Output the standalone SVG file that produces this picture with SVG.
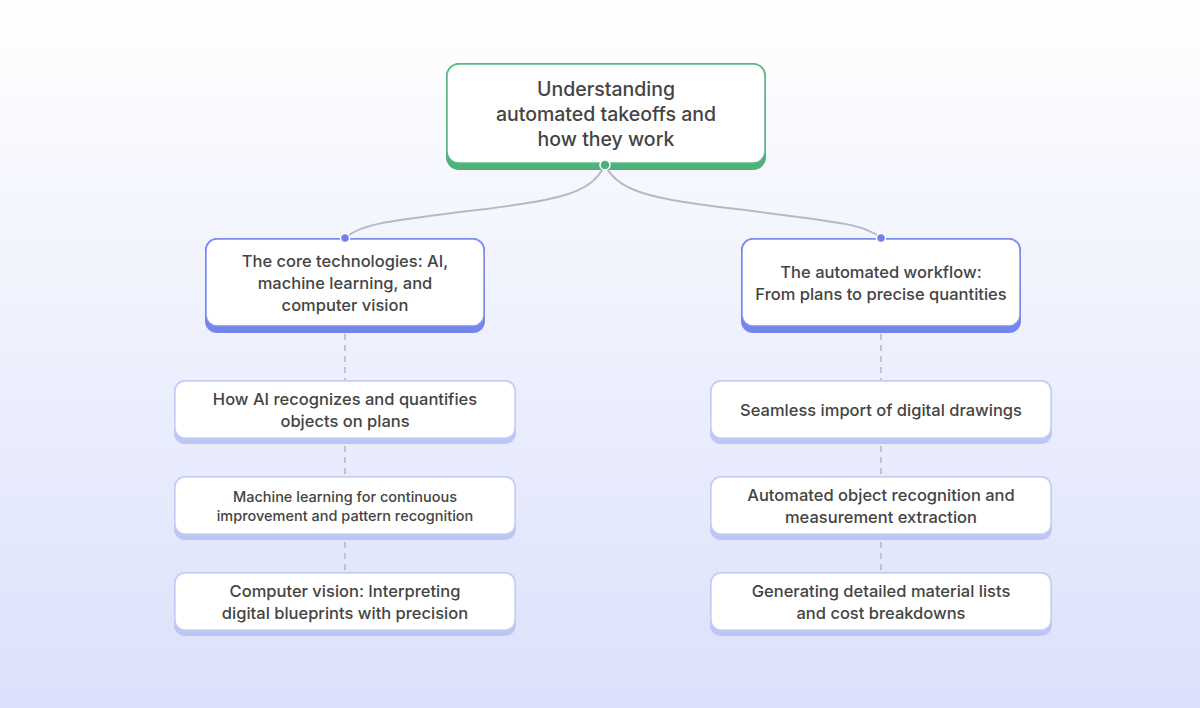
<svg xmlns="http://www.w3.org/2000/svg" width="1200" height="708" viewBox="0 0 1200 708">
<defs>
<linearGradient id="bg" x1="0" y1="0" x2="0" y2="1"><stop offset="0" stop-color="#ffffff"/><stop offset="1" stop-color="#dce1fb"/></linearGradient>
<style>
text{font-family:Inter,"Noto Sans",sans-serif;fill:#444;text-anchor:middle;font-weight:500}
.t1{font-size:19.5px}.t2{font-size:16.5px}.t3{font-size:16.5px}.t4{font-size:14.5px}
.card{fill:#fff}
.dash{stroke:#b5b7c4;stroke-width:1.5;stroke-dasharray:6 5;fill:none}
.curve{stroke:#b8b9c8;stroke-width:2;fill:none}
</style>
</defs>
<rect width="1200" height="708" fill="url(#bg)"/>
<g id="connectors">
<path class="curve" d="M605 165 C 590 195, 560 200, 460 212 C 380 222, 360 225, 345 238"/>
<path class="curve" d="M605 165 C 620 195, 660 200, 760 212 C 840 222, 866 225, 881 238"/>
<line class="dash" x1="345" y1="334" x2="345" y2="380"/>
<line class="dash" x1="345" y1="446" x2="345" y2="476"/>
<line class="dash" x1="345" y1="542" x2="345" y2="572"/>
<line class="dash" x1="881" y1="334" x2="881" y2="380"/>
<line class="dash" x1="881" y1="446" x2="881" y2="476"/>
<line class="dash" x1="881" y1="542" x2="881" y2="572"/>
</g>
<g id="root">
<rect x="446" y="63" width="320" height="107" rx="13" fill="#4cb27a"/>
<rect x="447" y="64" width="318" height="99" rx="12" class="card" stroke="#5bbb86" stroke-width="1.5"/>
<text class="t1" x="606" y="96">Understanding</text>
<text class="t1" x="606" y="121">automated takeoffs and</text>
<text class="t1" x="606" y="146">how they work</text>
<circle cx="605" cy="165" r="5" fill="#4cb27a" stroke="#fff" stroke-width="1.5"/>
</g>
<g id="left-main">
<rect x="205" y="238" width="280" height="95" rx="12" fill="#7485ea"/>
<rect x="206" y="239" width="278" height="87" rx="11" class="card" stroke="#7e8ff0" stroke-width="1.5"/>
<text class="t2" x="345" y="267">The core technologies: AI,</text>
<text class="t2" x="345" y="289">machine learning, and</text>
<text class="t2" x="345" y="311">computer vision</text>
<circle cx="345" cy="238" r="4.5" fill="#6f82ea" stroke="#fff" stroke-width="1.5"/>
</g>
<g id="right-main">
<rect x="741" y="238" width="280" height="95" rx="12" fill="#7485ea"/>
<rect x="742" y="239" width="278" height="87" rx="11" class="card" stroke="#7e8ff0" stroke-width="1.5"/>
<text class="t2" x="881" y="278">The automated workflow:</text>
<text class="t2" x="881" y="300">From plans to precise quantities</text>
<circle cx="881" cy="238" r="4.5" fill="#6f82ea" stroke="#fff" stroke-width="1.5"/>
</g>
<g id="l1"><rect x="174" y="380" width="342" height="64" rx="11" fill="#bcc5f5"/><rect x="175" y="381" width="340" height="57" rx="10" class="card" stroke="#c8cff7" stroke-width="1.5"/>
<text class="t3" x="345" y="405">How AI recognizes and quantifies</text><text class="t3" x="345" y="427">objects on plans</text></g>
<g id="l2"><rect x="174" y="476" width="342" height="64" rx="11" fill="#bcc5f5"/><rect x="175" y="477" width="340" height="57" rx="10" class="card" stroke="#c8cff7" stroke-width="1.5"/>
<text class="t4" x="345" y="502">Machine learning for continuous</text><text class="t4" x="345" y="521">improvement and pattern recognition</text></g>
<g id="l3"><rect x="174" y="572" width="342" height="64" rx="11" fill="#bcc5f5"/><rect x="175" y="573" width="340" height="57" rx="10" class="card" stroke="#c8cff7" stroke-width="1.5"/>
<text class="t3" x="345" y="597">Computer vision: Interpreting</text><text class="t3" x="345" y="619">digital blueprints with precision</text></g>
<g id="r1"><rect x="710" y="380" width="342" height="64" rx="11" fill="#bcc5f5"/><rect x="711" y="381" width="340" height="57" rx="10" class="card" stroke="#c8cff7" stroke-width="1.5"/>
<text class="t3" x="881" y="416">Seamless import of digital drawings</text></g>
<g id="r2"><rect x="710" y="476" width="342" height="64" rx="11" fill="#bcc5f5"/><rect x="711" y="477" width="340" height="57" rx="10" class="card" stroke="#c8cff7" stroke-width="1.5"/>
<text class="t3" x="881" y="501">Automated object recognition and</text><text class="t3" x="881" y="523">measurement extraction</text></g>
<g id="r3"><rect x="710" y="572" width="342" height="64" rx="11" fill="#bcc5f5"/><rect x="711" y="573" width="340" height="57" rx="10" class="card" stroke="#c8cff7" stroke-width="1.5"/>
<text class="t3" x="881" y="597">Generating detailed material lists</text><text class="t3" x="881" y="619">and cost breakdowns</text></g>
</svg>
